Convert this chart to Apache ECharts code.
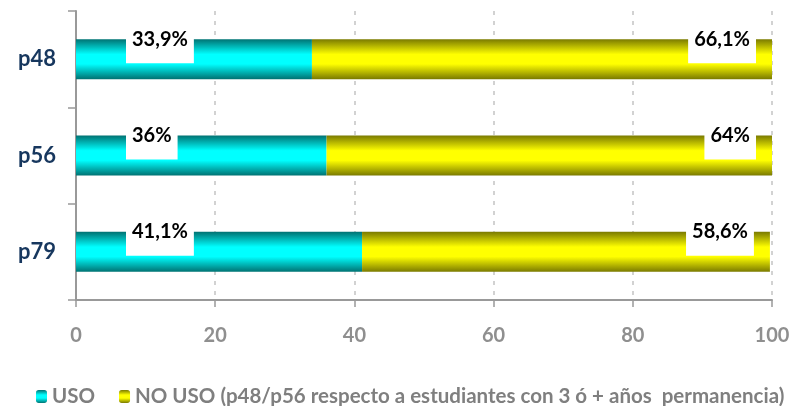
<!DOCTYPE html>
<html><head><meta charset="utf-8">
<script src="https://cdn.jsdelivr.net/npm/echarts@6/dist/echarts.min.js"></script>
<style>html,body{margin:0;padding:0;background:#fff}#c{width:794px;height:406px}</style>
</head><body><div id="c"></div>
<script>
var categories = ['p48', 'p56', 'p79'];
var usoValues = [33.9, 36, 41.1];
var noUsoValues = [66.1, 64, 58.6];
var xTicks = [0, 20, 40, 60, 80, 100];
var seriesNames = ['USO', 'NO USO (p48/p56 respecto a estudiantes con 3 ó + años  permanencia)'];

function grad(edge, mid) {
  return new echarts.graphic.LinearGradient(0, 0, 0, 1, [
    {offset: 0, color: edge}, {offset: 0.38, color: mid},
    {offset: 0.62, color: mid}, {offset: 1, color: edge}
  ]);
}
function fmt(p) { return String(p.value).replace('.', ',') + '%'; }
var font = 'Lato, "Open Sans", sans-serif';
var labelBase = {
  show: true, formatter: fmt, color: '#000', fontWeight: 'bold', fontSize: 20,
  fontFamily: font, backgroundColor: '#fff', padding: [3, 6, 14, 6], lineHeight: 20
};
var chart = echarts.init(document.getElementById('c'));
chart.setOption({
  animation: false,
  grid: {left: 76, right: 22, top: 11, bottom: 106, containLabel: false},
  xAxis: {
    type: 'value', min: 0, max: 100, interval: 20,
    axisLine: {show: true, lineStyle: {color: '#999', width: 2}},
    axisTick: {show: true, length: 7, lineStyle: {color: '#999', width: 1.5}},
    splitLine: {show: true, lineStyle: {color: '#c4c4c4', type: [4, 6], width: 1.5}},
    axisLabel: {color: '#8f8f8f', fontWeight: 'bold', fontSize: 20, fontFamily: font, margin: 26,
      formatter: function (v) { return xTicks.indexOf(v) >= 0 ? String(v) : ''; }}
  },
  yAxis: {
    type: 'category', data: categories, inverse: true,
    axisLine: {show: true, lineStyle: {color: '#999', width: 2}},
    axisTick: {show: true, length: 8, lineStyle: {color: '#999', width: 1.5}},
    axisLabel: {color: '#17375e', fontWeight: 'bold', fontSize: 22, fontFamily: font, margin: 20}
  },
  legend: {
    top: 381, left: 31, itemWidth: 11, itemHeight: 13, itemGap: 24,
    textStyle: {color: '#7f7f7f', fontWeight: 'bold', fontSize: 20.5, fontFamily: font},
    data: seriesNames
  },
  series: [
    {
      name: seriesNames[0], type: 'bar', stack: 's', barWidth: 40, data: usoValues,
      itemStyle: {color: grad('#007272', '#00ffff')},
      label: Object.assign({}, labelBase, {position: [50, -13]})
    },
    {
      name: seriesNames[1], type: 'bar', stack: 's', barWidth: 40, data: noUsoValues,
      itemStyle: {color: grad('#7a7a00', '#ffff00')},
      label: Object.assign({}, labelBase, {position: 'insideTopRight', distance: 0, offset: [-16, -13]})
    }
  ]
});
</script></body></html>
